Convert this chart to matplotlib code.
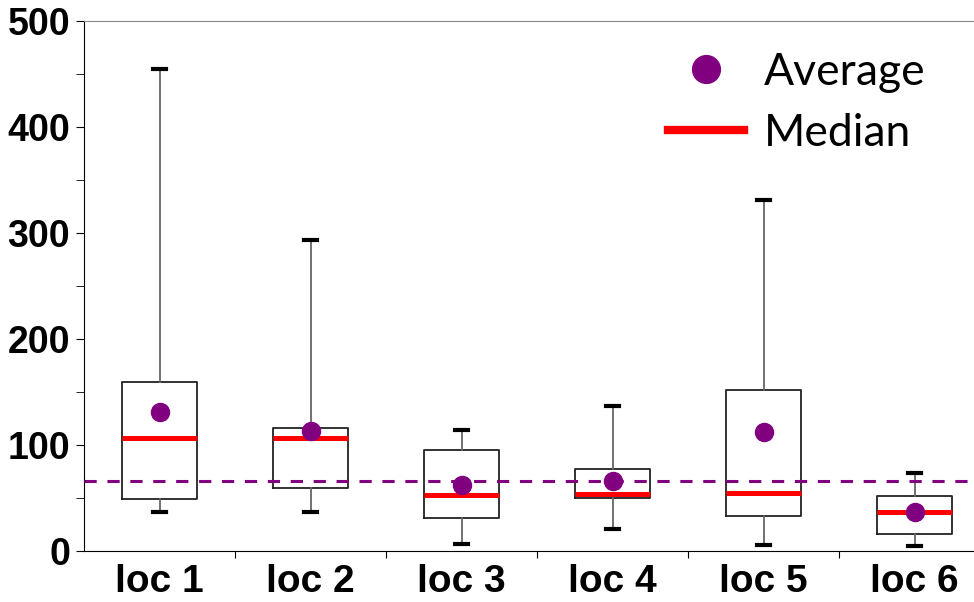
import matplotlib.pyplot as plt
from matplotlib.lines import Line2D

# data
locations = ["loc 1", "loc 2", "loc 3", "loc 4", "loc 5", "loc 6"]
whisker_low = [37, 37, 7, 21, 6, 5]
box_low = [49, 59, 31, 50, 33, 16]
medians = [107, 107, 53, 54, 55, 37]
box_high = [159, 116, 95, 77, 152, 52]
whisker_high = [455, 293, 114, 137, 331, 74]
averages = [131, 113, 62, 66, 112, 37]
overall_avg = 66

purple = "#800080"

stats = []
for i, name in enumerate(locations):
    stats.append({
        "label": name,
        "whislo": whisker_low[i],
        "q1": box_low[i],
        "med": medians[i],
        "q3": box_high[i],
        "whishi": whisker_high[i],
        "fliers": [],
    })

fig = plt.figure(figsize=(9.74, 6.02), dpi=100)
ax = fig.add_axes([84 / 974, 1 - 551 / 602, 1 - 84 / 974, 530 / 602])

pos = list(range(1, len(locations) + 1))
ax.bxp(stats, positions=pos, widths=0.5, capwidths=0.09, showfliers=False,
       boxprops=dict(color="#222222", linewidth=1.3),
       whiskerprops=dict(color="#666666", linewidth=1.3),
       capprops=dict(color="black", linewidth=3),
       medianprops=dict(color="red", linewidth=3.6, solid_capstyle="butt"))

ax.plot(pos, averages, "o", color=purple, markersize=13, zorder=5)
ax.axhline(overall_avg, color=purple, linestyle=(0, (4, 3.5)), linewidth=2.2, zorder=4)

ax.set_xlim(0.5, 0.5 + (974 - 84) / 151)
ax.set_ylim(0, 500)
ax.set_yticks(range(0, 501, 100))
ax.set_yticks(range(50, 500, 100), minor=True)
ax.set_xticks([p + 0.5 for p in pos[:-1]])
ax.set_xticklabels([])
ax.tick_params(axis="x", which="major", length=5, direction="out")
ax.tick_params(axis="y", which="both", length=6, direction="out")
ax.tick_params(axis="y", labelsize=27, pad=4)
for lab in ax.get_yticklabels():
    lab.set_fontweight("bold")
    lab.set_family("Liberation Sans")

# category labels under each box
for p, name in zip(pos, locations):
    ax.text(p, -12, name, ha="center", va="top", fontsize=28, fontweight="bold",
            family="Liberation Sans")

ax.spines["right"].set_visible(False)
ax.spines["top"].set_color("#888888")
ax.spines["left"].set_color("black")
ax.spines["bottom"].set_color("black")

handles = [
    Line2D([], [], marker="o", color=purple, linestyle="none", markersize=20),
    Line2D([], [], color="red", linewidth=6),
]
fig.legend(handles, ["Average", "Median"], loc="upper left",
           bbox_to_anchor=(668 / 974, 1 - 52 / 602), frameon=False,
           prop={"family": "Lato", "size": 32}, handlelength=1.7,
           handletextpad=0.45, labelspacing=0.45, borderaxespad=0, borderpad=0)

fig.savefig("out.png", dpi=100)
